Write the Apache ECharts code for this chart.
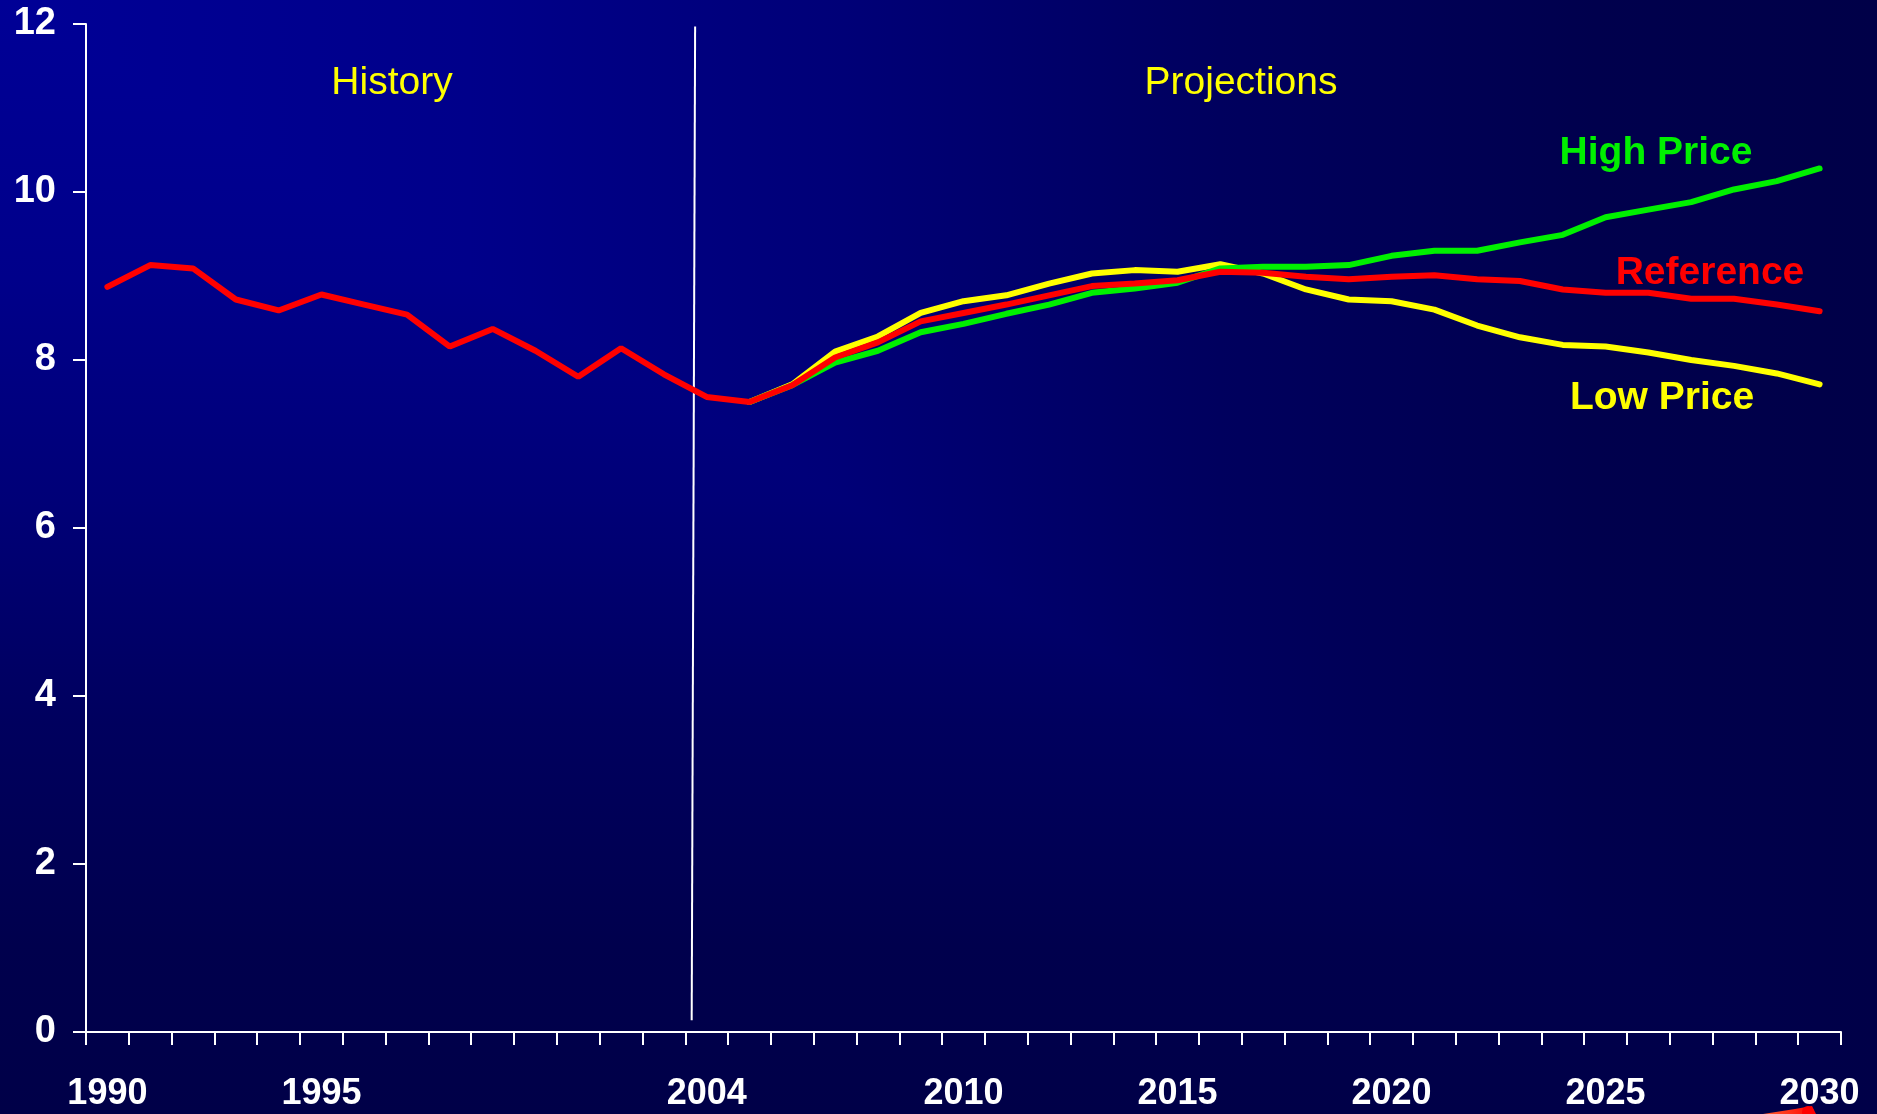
<!DOCTYPE html>
<html>
<head>
<meta charset="utf-8">
<script src="https://cdn.jsdelivr.net/npm/echarts@6/dist/echarts.min.js"></script>
<style>
html,body{margin:0;padding:0;background:#000060;}
#chart{width:1877px;height:1114px;}
</style>
</head>
<body>
<div id="chart"></div>
<script>
const years = ['1990','1991','1992','1993','1994','1995','1996','1997','1998','1999',
  '2000','2001','2002','2003','2004','2005','2006','2007','2008','2009',
  '2010','2011','2012','2013','2014','2015','2016','2017','2018','2019',
  '2020','2021','2022','2023','2024','2025','2026','2027','2028','2029','2030'];
const tickLabels = ['1990','1995','2004','2010','2015','2020','2025','2030'];
const yTicks = [0, 2, 4, 6, 8, 10, 12];

const referenceCase = [8.87, 9.13, 9.09, 8.72, 8.59, 8.78, 8.66, 8.54, 8.16, 8.37,
  8.11, 7.80, 8.14, 7.83, 7.56, 7.50, 7.70, 8.03, 8.21, 8.46,
  8.56, 8.66, 8.77, 8.88, 8.91, 8.95, 9.05, 9.04, 8.99, 8.96,
  8.99, 9.01, 8.96, 8.94, 8.84, 8.80, 8.80, 8.73, 8.73, 8.66, 8.58];
const highPrice = [null, null, null, null, null, null, null, null, null, null,
  null, null, null, null, null, 7.50, 7.70, 7.97, 8.11, 8.33,
  8.43, 8.55, 8.66, 8.80, 8.85, 8.92, 9.09, 9.11, 9.11, 9.13,
  9.24, 9.30, 9.30, 9.40, 9.49, 9.70, 9.79, 9.88, 10.03, 10.13, 10.28];
const lowPrice = [null, null, null, null, null, null, null, null, null, null,
  null, null, null, null, null, 7.50, 7.71, 8.10, 8.28, 8.56,
  8.70, 8.77, 8.91, 9.03, 9.07, 9.05, 9.14, 9.03, 8.84, 8.72,
  8.70, 8.60, 8.41, 8.27, 8.18, 8.16, 8.09, 8.00, 7.93, 7.84, 7.71];
// History / projections divider: [year position, value] at top and bottom
const dividerLine = [[2003.73, 11.97], [2003.65, 0.14]];

const chart = echarts.init(document.getElementById('chart'));
const W = chart.getWidth(), H = chart.getHeight();
const font = "'Liberation Sans', Arial, Helvetica, sans-serif";

const bgStops = [
  {offset: 0, color: '#000096'},
  {offset: 0.25, color: '#00008A'},
  {offset: 0.45, color: '#000077'},
  {offset: 0.65, color: '#00005E'},
  {offset: 0.85, color: '#00004D'},
  {offset: 1, color: '#000048'}
];
const gradH = new echarts.graphic.LinearGradient(0, 0, 1, 0, bgStops);
const gradV = new echarts.graphic.LinearGradient(0, 0, 0, 1, bgStops);

const textEl = (txt, x, y, color, weight) => ({
  type: 'text', x: x, y: y, z: 50,
  style: {text: txt, fill: color, font: weight + ' 39px ' + font,
          textAlign: 'center', textVerticalAlign: 'middle'}
});

chart.setOption({
  backgroundColor: '#000060',
  animation: false,
  graphic: {elements: [
    {type: 'rect', z: -100, silent: true, shape: {x: 0, y: 0, width: W, height: H}, style: {fill: gradH}},
    {type: 'rect', z: -99, silent: true, shape: {x: 0, y: 0, width: W, height: H}, style: {fill: gradV, blend: 'darken'}},
    textEl('History', 392, 83, '#FFFF00', 'normal'),
    textEl('Projections', 1241, 83, '#FFFF00', 'normal'),
    textEl('High Price', 1656, 153, '#00F000', 'bold'),
    textEl('Reference', 1710, 273, '#FF0000', 'bold'),
    textEl('Low Price', 1662, 398, '#FFFF00', 'bold'),
    {type: 'polygon', z: 40, shape: {points: [[1763, 1114], [1795, 1109], [1812, 1106], [1816, 1114]]},
     style: {fill: new echarts.graphic.LinearGradient(0, 0, 1, 0, [{offset: 0, color: '#FF6030'}, {offset: 1, color: '#FF0000'}])}},
    {type: 'circle', z: 41, shape: {cx: 1808, cy: 1112, r: 6}, style: {fill: '#FF0000'}}
  ]},
  grid: {left: 86, right: 36, top: 24, bottom: 82, containLabel: false},
  xAxis: [{
    type: 'category',
    data: years,
    boundaryGap: true,
    axisLine: {show: true, lineStyle: {color: '#FFFFFF', width: 2}},
    axisTick: {show: true, interval: 0, length: 13, lineStyle: {color: '#FFFFFF', width: 2}},
    axisLabel: {
      interval: (idx, val) => tickLabels.indexOf(val) >= 0,
      color: '#FFFFFF', fontFamily: font, fontWeight: 'bold', fontSize: 36, margin: 44
    },
    splitLine: {show: false}
  }, {
    type: 'value', min: 1989.5, max: 2030.5, show: false
  }],
  yAxis: {
    type: 'value', min: yTicks[0], max: yTicks[yTicks.length - 1], interval: 2,
    axisLine: {show: true, lineStyle: {color: '#FFFFFF', width: 2}},
    axisTick: {show: true, length: 13, lineStyle: {color: '#FFFFFF', width: 2}},
    axisLabel: {color: '#FFFFFF', fontFamily: font, fontWeight: 'bold', fontSize: 38, margin: 30},
    splitLine: {show: false}
  },
  series: [
    {name: 'Divider', type: 'line', xAxisIndex: 1, data: dividerLine, symbol: 'none',
     lineStyle: {color: '#FFFFFF', width: 2}, z: 1},
    {name: 'Low Price', type: 'line', data: lowPrice, symbol: 'none',
     lineStyle: {color: '#FFFF00', width: 6, cap: 'round'}, z: 2},
    {name: 'High Price', type: 'line', data: highPrice, symbol: 'none',
     lineStyle: {color: '#00F000', width: 6, cap: 'round'}, z: 3},
    {name: 'Reference', type: 'line', data: referenceCase, symbol: 'none',
     lineStyle: {color: '#FF0000', width: 6, cap: 'round'}, z: 4}
  ]
});
</script>
</body>
</html>
